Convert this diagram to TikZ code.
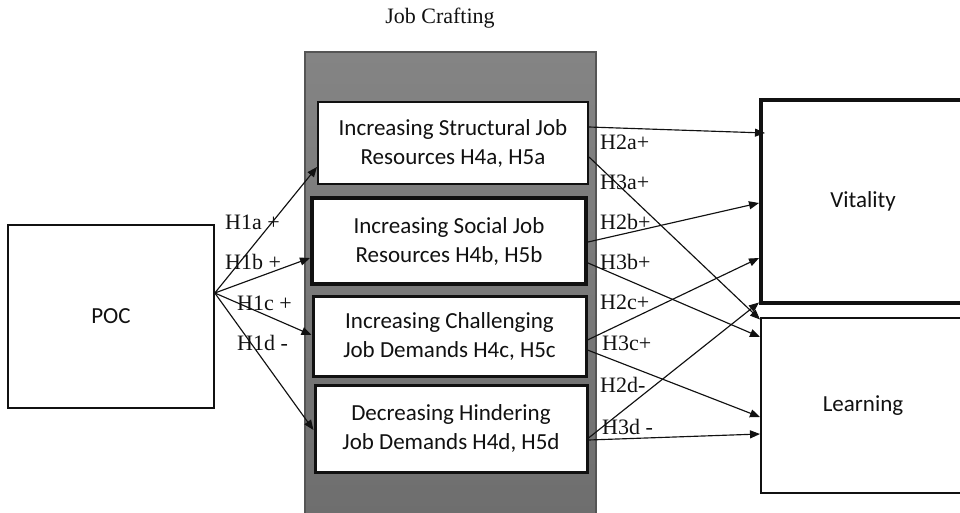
\documentclass[tikz,border=0pt]{standalone}
\usepackage{fontspec}
\setmainfont{Liberation Serif}
\newfontfamily\boxfont{Carlito}
\usetikzlibrary{arrows.meta}
\definecolor{panelTop}{HTML}{848484}
\definecolor{panelBot}{HTML}{6E6E6E}
\definecolor{panelEdge}{HTML}{555555}
\definecolor{ink}{HTML}{111111}
\tikzset{
  bx/.style={draw=ink, fill=white, rectangle, inner sep=0pt, align=center,
    font=\boxfont\fontsize{23}{29}\selectfont, text=ink},
  arr/.style={draw=ink, line width=1.15pt, -{Triangle[length=10pt,width=8pt]}},
  lab/.style={anchor=west, inner sep=0pt, font=\fontsize{22}{26}\selectfont, text=ink},
}
\begin{document}
\begin{tikzpicture}[x=1pt,y=-1pt]
\useasboundingbox (0,0) rectangle (960,512);
% title
\node[inner sep=0pt, font=\fontsize{22}{26}\selectfont, text=ink] (title) at (440,18) {Job Crafting};
% panel
\node[draw=panelEdge, line width=1.2pt, top color=panelTop, bottom color=panelBot,
  minimum width=291pt, minimum height=464pt, inner sep=0pt] (panel) at (450.5,284) {};
% boxes
\node[bx, line width=2pt, minimum width=270pt, minimum height=82pt] (boxa) at (453,143)
  {Increasing Structural Job\\Resources H4a, H5a};
\node[bx, line width=4pt, minimum width=274pt, minimum height=86pt] (boxb) at (449,241)
  {Increasing Social Job\\Resources H4b, H5b};
\node[bx, line width=3pt, minimum width=273pt, minimum height=80pt] (boxc) at (449.5,336)
  {Increasing Challenging\\Job Demands H4c, H5c};
\node[bx, line width=3pt, minimum width=272pt, minimum height=87pt] (boxd) at (451,428.5)
  {Decreasing Hindering\\Job Demands H4d, H5d};
% POC
\node[bx, line width=1.6pt, minimum width=206pt, minimum height=183pt] (poc) at (111,316.5) {\raisebox{-1.5pt}{POC}};
% outcomes
\node[bx, line width=4pt, minimum width=204pt, minimum height=203pt] (vit) at (863,201.5) {\raisebox{-3pt}{Vitality}};
\node[bx, line width=2pt, minimum width=204pt, minimum height=175pt] (learn) at (863,405.5) {\raisebox{-3pt}{Learning}};
% H1 arrows
\draw[arr] ([yshift=23.5pt]poc.east) -- ([yshift=-24pt]boxa.west);
\draw[arr] ([yshift=23.5pt]poc.east) -- ([yshift=-17pt]boxb.west);
\draw[arr] ([yshift=23.5pt]poc.east) -- ([yshift=1pt]boxc.west);
\draw[arr] ([yshift=23.5pt]poc.east) -- ([yshift=-1.5pt]boxd.west);
% H2 / H3 arrows
\draw[arr] ([yshift=16pt]boxa.east) -- ([xshift=6pt,yshift=68.5pt]vit.west);
\draw[arr] ([yshift=-14pt]boxa.east) -- ([yshift=86pt]learn.west);
\draw[arr] ([yshift=-1pt]boxb.east) -- ([yshift=-1.5pt]vit.west);
\draw[arr] ([yshift=-22pt]boxb.east) -- ([yshift=68.5pt]learn.west);
\draw[arr] ([yshift=-4pt]boxc.east) -- ([yshift=-56.5pt]vit.west);
\draw[arr] ([yshift=-14pt]boxc.east) -- ([yshift=-11.5pt]learn.west);
\draw[arr] ([yshift=-9.5pt]boxd.east) -- ([yshift=-101pt]vit.west);
\draw[arr] ([yshift=-11.5pt]boxd.east) -- ([yshift=-28.5pt]learn.west);
% left labels
\node[lab] (l1a) at (225,222) {H1a +};
\node[lab] (l1b) at (225,262) {H1b +};
\node[lab] (l1c) at (237,303) {H1c +};
\node[lab] (l1d) at (237,343) {H1d -};
% right labels
\node[lab] (l2a) at (600,142) {H2a+};
\node[lab] (l3a) at (600,182) {H3a+};
\node[lab] (l2b) at (600,222) {H2b+};
\node[lab] (l3b) at (600,262) {H3b+};
\node[lab] (l2c) at (600,302) {H2c+};
\node[lab] (l3c) at (602,343) {H3c+};
\node[lab] (l2d) at (600,385) {H2d-};
\node[lab] (l3d) at (602,427) {H3d -};
\end{tikzpicture}
\end{document}
